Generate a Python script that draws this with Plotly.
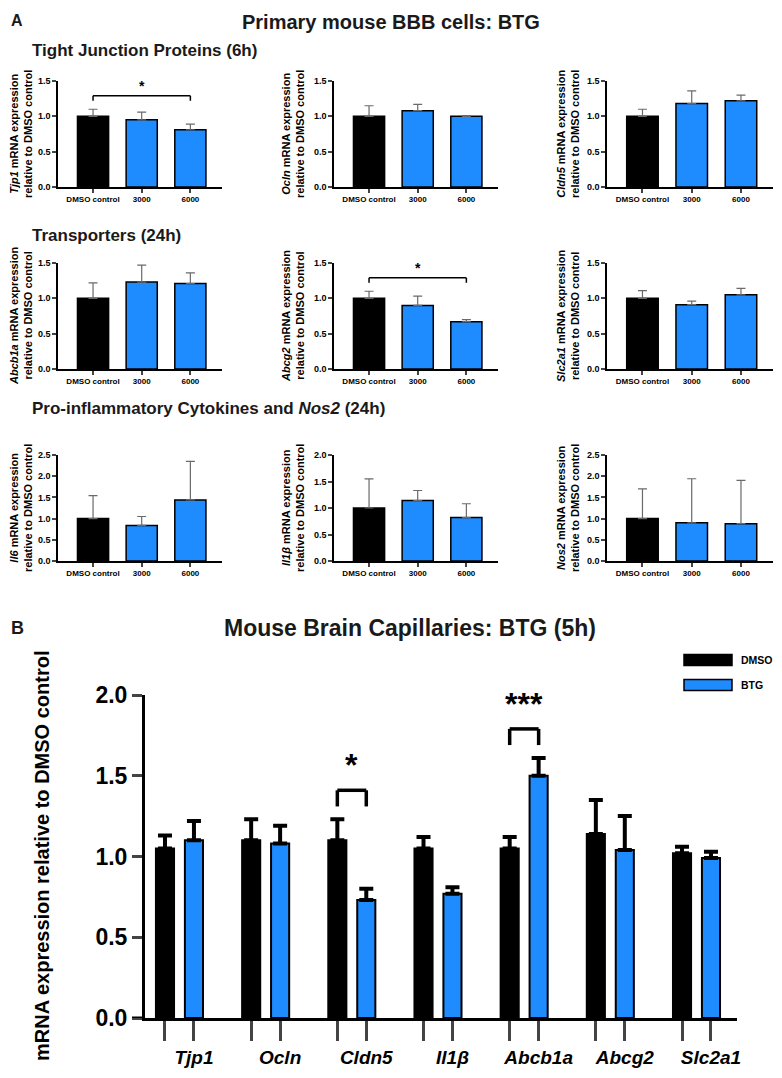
import plotly.graph_objects as go

FONT = "Liberation Sans, Arial, sans-serif"
BLUE = "#1E8CFF"
# page body adds an 8px margin, so the figure is a bit smaller and offset
OX, OY = 8, 8
W, H = 774, 1070

# ---- panel A data (primary mouse BBB cells) ----
doses = ["DMSO control", "3000", "6000"]

tjp1_mean = [1.00, 0.95, 0.81]
tjp1_err = [0.10, 0.11, 0.08]
ocln_mean = [1.00, 1.08, 1.00]
ocln_err = [0.15, 0.09, 0.01]
cldn5_mean = [1.00, 1.18, 1.22]
cldn5_err = [0.10, 0.18, 0.08]

abcb1a_mean = [1.00, 1.23, 1.21]
abcb1a_err = [0.22, 0.24, 0.15]
abcg2_mean = [1.00, 0.90, 0.67]
abcg2_err = [0.10, 0.13, 0.03]
slc2a1_mean = [1.00, 0.91, 1.05]
slc2a1_err = [0.11, 0.05, 0.09]

il6_mean = [1.00, 0.84, 1.44]
il6_err = [0.54, 0.21, 0.91]
il1b_mean = [1.00, 1.14, 0.82]
il1b_err = [0.55, 0.19, 0.26]
nos2_mean = [1.00, 0.90, 0.88]
nos2_err = [0.70, 1.04, 1.02]

# ---- panel B data (mouse brain capillaries) ----
genes_b = ["Tjp1", "Ocln", "Cldn5", "Il1β", "Abcb1a", "Abcg2", "Slc2a1"]
dmso_b = [1.05, 1.10, 1.10, 1.05, 1.05, 1.14, 1.02]
dmso_b_err = [0.08, 0.13, 0.13, 0.07, 0.07, 0.21, 0.04]
btg_b = [1.10, 1.08, 0.73, 0.77, 1.50, 1.04, 0.99]
btg_b_err = [0.12, 0.11, 0.07, 0.04, 0.11, 0.21, 0.04]


def px(x):
    return (x - OX) / W


def py(y):
    return 1 - (y - OY) / H


fig = go.Figure()
annotations = []
shapes = []

col_x = [(58, 222), (334, 498), (607, 773)]
row_y = [(81, 187), (263, 369), (455, 561)]
ytitle_x = [21, 293, 568]

panels = [
    ("Tjp1", tjp1_mean, tjp1_err, 1.5, "*"),
    ("Ocln", ocln_mean, ocln_err, 1.5, None),
    ("Cldn5", cldn5_mean, cldn5_err, 1.5, None),
    ("Abcb1a", abcb1a_mean, abcb1a_err, 1.5, None),
    ("Abcg2", abcg2_mean, abcg2_err, 1.5, "*"),
    ("Slc2a1", slc2a1_mean, slc2a1_err, 1.5, None),
    ("Il6", il6_mean, il6_err, 2.5, None),
    ("Il1β", il1b_mean, il1b_err, 2.0, None),
    ("Nos2", nos2_mean, nos2_err, 2.5, None),
]

for k, (gene, mean, err, ymax, sig) in enumerate(panels):
    n = k + 1
    r, c = divmod(k, 3)
    xa = "x" if n == 1 else "x%d" % n
    ya = "y" if n == 1 else "y%d" % n
    fig.add_trace(go.Bar(
        x=doses, y=mean, xaxis=xa, yaxis=ya, width=0.64,
        marker=dict(color=["black", BLUE, BLUE], line=dict(color="black", width=1.5)),
        error_y=dict(type="data", array=err, arrayminus=[0] * len(err), symmetric=False,
                     color="#6a6a6a", thickness=1.2, width=4.5),
        showlegend=False, cliponaxis=False,
    ))
    x0, x1 = col_x[c]
    y0, y1 = row_y[r]
    fig.layout["xaxis%d" % n] = dict(
        domain=[px(x0), px(x1)], anchor=ya, type="category", range=[-0.72, 2.65],
        showline=True, linecolor="black", linewidth=1.5, ticks="outside", ticklen=4,
        tickwidth=1.5, tickfont=dict(size=8, family=FONT, weight="bold", color="black"),
        showgrid=False, zeroline=False, automargin=False,
    )
    fig.layout["yaxis%d" % n] = dict(
        domain=[py(y1), py(y0)], anchor=xa, range=[0, ymax], dtick=0.5, tickformat=".1f",
        showline=True, linecolor="black", linewidth=1.5, ticks="outside", ticklen=4,
        tickwidth=1.5, tickfont=dict(size=9, family=FONT, weight="bold", color="black"),
        showgrid=False, zeroline=False, automargin=False,
    )
    annotations.append(dict(
        text="<i>%s</i> mRNA expression<br>relative to DMSO control" % gene,
        textangle=-90, xref="paper", yref="paper", x=px(ytitle_x[c]), y=py((y0 + y1) / 2),
        xanchor="center", yanchor="middle", showarrow=False,
        font=dict(size=11, family=FONT, weight="bold", color="black"),
    ))
    if sig:
        top = max(m + e for m, e in zip(mean, err))
        yb = top + 0.19
        for sx0, sy0, sx1, sy1 in [(0, yb - 0.07, 0, yb), (0, yb, 2, yb), (2, yb, 2, yb - 0.07)]:
            shapes.append(dict(type="line", xref=xa, yref=ya, x0=sx0, y0=sy0, x1=sx1, y1=sy1,
                               line=dict(color="black", width=1.5)))
        annotations.append(dict(text="<b>%s</b>" % sig, xref=xa, yref=ya, x=1, y=yb,
                                xanchor="center", yanchor="bottom", showarrow=False,
                                font=dict(size=14, family=FONT, color="black")))

# ---- panel B ----
off = 0.168
xb_dmso = [i - off for i in range(len(genes_b))]
xb_btg = [i + off for i in range(len(genes_b))]
fig.add_trace(go.Bar(
    x=xb_dmso, y=dmso_b, xaxis="x10", yaxis="y10", width=0.21, name="DMSO",
    marker=dict(color="black", line=dict(color="black", width=2)),
    error_y=dict(type="data", array=dmso_b_err, arrayminus=[0] * 7, symmetric=False,
                 color="black", thickness=4, width=7),
    showlegend=False, cliponaxis=False,
))
fig.add_trace(go.Bar(
    x=xb_btg, y=btg_b, xaxis="x10", yaxis="y10", width=0.21, name="BTG",
    marker=dict(color=BLUE, line=dict(color="black", width=2)),
    error_y=dict(type="data", array=btg_b_err, arrayminus=[0] * 7, symmetric=False,
                 color="black", thickness=4, width=7),
    showlegend=False, cliponaxis=False,
))

tickvals_b = []
ticktext_b = []
for i, g in enumerate(genes_b):
    tickvals_b += [xb_dmso[i], xb_btg[i]]
    ticktext_b += ["", "<i>%s</i>" % g]

fig.layout["xaxis10"] = dict(
    domain=[px(145), px(737)], anchor="y10", range=[-0.40, 6.47],
    tickvals=tickvals_b, ticktext=ticktext_b,
    showline=True, linecolor="black", linewidth=3, ticks="outside", ticklen=20, tickwidth=3,
    tickfont=dict(size=19, family=FONT, weight="bold", color="black"),
    showgrid=False, zeroline=False, automargin=False,
)
fig.layout["yaxis10"] = dict(
    domain=[py(1018), py(695)], anchor="x10", range=[0, 2.0], dtick=0.5, tickformat=".1f",
    showline=True, linecolor="black", linewidth=3, ticks="outside", ticklen=10, tickwidth=3,
    tickfont=dict(size=23, family=FONT, weight="bold", color="black"),
    showgrid=False, zeroline=False, automargin=False,
)
shapes.append(dict(type="line", xref="x10 domain", yref="y10", x0=-0.022, x1=0, y0=0, y1=0,
                   line=dict(color="black", width=3)))

# significance brackets in panel B
for gi, label in [(2, "*"), (4, "***")]:
    top = max(dmso_b[gi] + dmso_b_err[gi], btg_b[gi] + btg_b_err[gi])
    yb = top + 0.18
    for sx0, sy0, sx1, sy1 in [(xb_dmso[gi], yb - 0.1, xb_dmso[gi], yb),
                               (xb_dmso[gi], yb, xb_btg[gi], yb),
                               (xb_btg[gi], yb, xb_btg[gi], yb - 0.1)]:
        shapes.append(dict(type="line", xref="x10", yref="y10", x0=sx0, y0=sy0, x1=sx1, y1=sy1,
                           line=dict(color="black", width=3.5)))
    annotations.append(dict(text="<b>%s</b>" % label, xref="x10", yref="y10", x=gi, y=yb + 0.03,
                            xanchor="center", yanchor="bottom", showarrow=False,
                            font=dict(size=32, family=FONT, color="black")))

# legend for panel B
for name, color, yc in [("DMSO", "black", 660), ("BTG", BLUE, 685)]:
    shapes.append(dict(type="rect", xref="paper", yref="paper", x0=px(684), x1=px(732),
                       y0=py(yc + 5.5), y1=py(yc - 5.5), fillcolor=color,
                       line=dict(color="black", width=1.5)))
    annotations.append(dict(text="<b>%s</b>" % name, xref="paper", yref="paper", x=px(739),
                            y=py(yc), xanchor="left", yanchor="middle", showarrow=False,
                            font=dict(size=10.5, family=FONT, color="black")))

annotations.append(dict(text="mRNA expression relative to DMSO control", textangle=-90,
                        xref="paper", yref="paper", x=px(42), y=py(856),
                        xanchor="center", yanchor="middle", showarrow=False,
                        font=dict(size=20, family=FONT, weight="bold", color="black")))

# titles and panel letters
titles = [
    ("A", 9, 20, 16, "left"),
    ("Primary mouse BBB cells: BTG", 391, 22, 20, "center"),
    ("Tight Junction Proteins (6h)", 30, 50, 17, "left"),
    ("Transporters (24h)", 30, 235, 17, "left"),
    ("Pro-inflammatory Cytokines and <i>Nos2</i> (24h)", 30, 408, 17, "left"),
    ("B", 9, 628, 18, "left"),
    ("Mouse Brain Capillaries: BTG (5h)", 410, 628, 23, "center"),
]
for text, tx, ty, size, anchor in titles:
    annotations.append(dict(text="<b>%s</b>" % text, xref="paper", yref="paper", x=px(tx),
                            y=py(ty), xanchor=anchor, yanchor="middle", showarrow=False,
                            font=dict(size=size, family=FONT, color="#1a1a1a")))

fig.update_layout(
    width=W, height=H, margin=dict(l=0, r=0, t=0, b=0),
    plot_bgcolor="white", paper_bgcolor="white",
    font=dict(family=FONT, color="black"),
    annotations=annotations, shapes=shapes, showlegend=False,
)

fig.write_html("out.html")
